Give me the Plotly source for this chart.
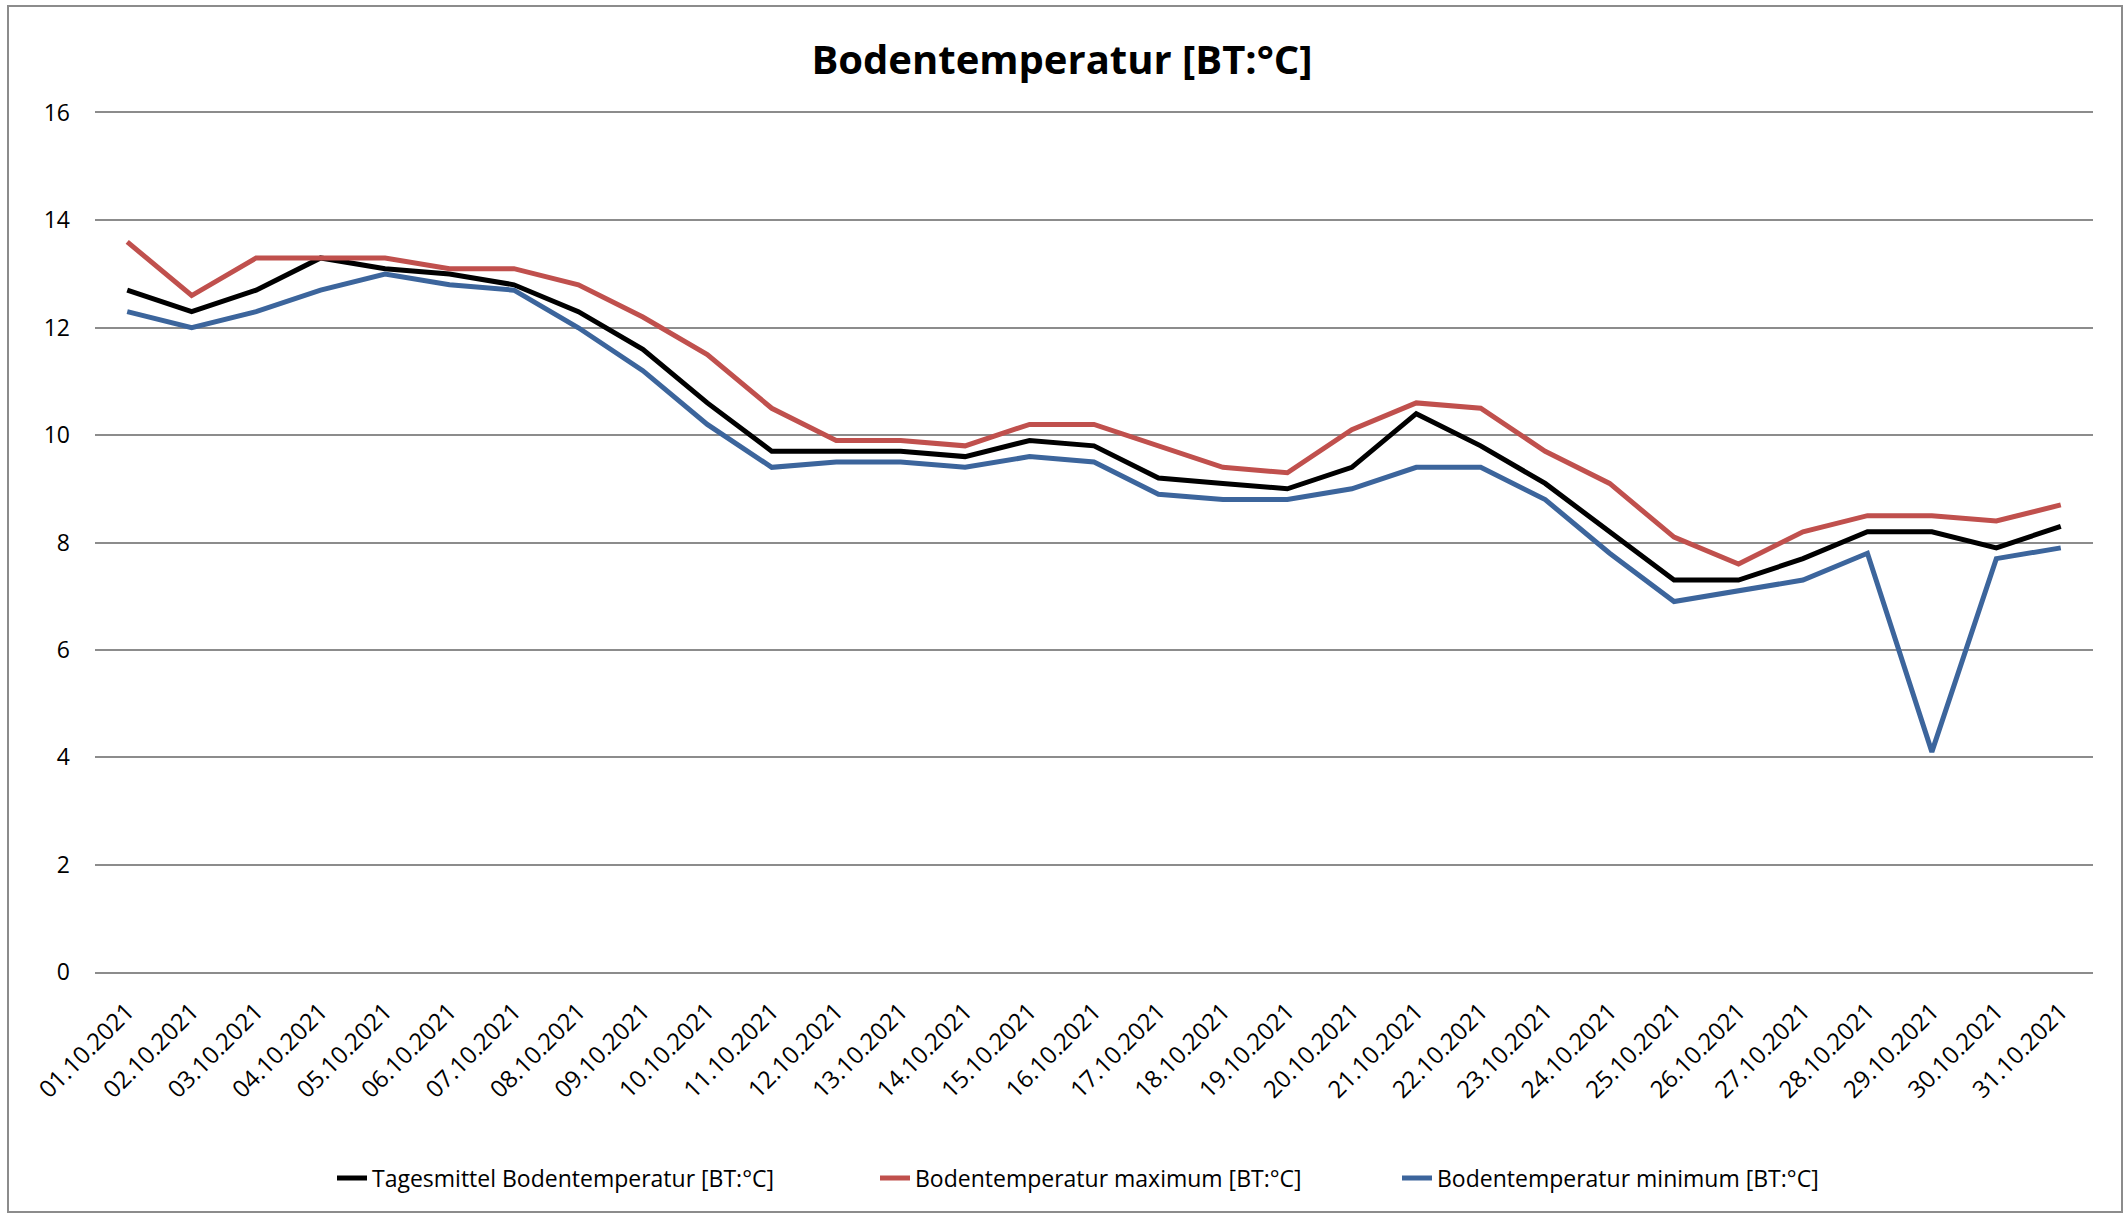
import plotly.graph_objects as go

dates = [f"{d:02d}.10.2021" for d in range(1, 32)]

mittel = [12.7, 12.3, 12.7, 13.3, 13.1, 13.0, 12.8, 12.3, 11.6, 10.6,
          9.7, 9.7, 9.7, 9.6, 9.9, 9.8, 9.2, 9.1, 9.0, 9.4,
          10.4, 9.8, 9.1, 8.2, 7.3, 7.3, 7.7, 8.2, 8.2, 7.9, 8.3]
maximum = [13.6, 12.6, 13.3, 13.3, 13.3, 13.1, 13.1, 12.8, 12.2, 11.5,
           10.5, 9.9, 9.9, 9.8, 10.2, 10.2, 9.8, 9.4, 9.3, 10.1,
           10.6, 10.5, 9.7, 9.1, 8.1, 7.6, 8.2, 8.5, 8.5, 8.4, 8.7]
minimum = [12.3, 12.0, 12.3, 12.7, 13.0, 12.8, 12.7, 12.0, 11.2, 10.2,
           9.4, 9.5, 9.5, 9.4, 9.6, 9.5, 8.9, 8.8, 8.8, 9.0,
           9.4, 9.4, 8.8, 7.8, 6.9, 7.1, 7.3, 7.8, 4.1, 7.7, 7.9]

y_ticks = [0, 2, 4, 6, 8, 10, 12, 14, 16]

names = ["Tagesmittel Bodentemperatur [BT:°C]",
         "Bodentemperatur maximum [BT:°C]",
         "Bodentemperatur minimum [BT:°C]"]
colors = ["#000000", "#C0504D", "#3C659C"]

W, H = 2124, 1213
L, R, T, B = 95, 31, 113, 241
pw, ph = W - L - R, H - T - B

def px_x(p):
    return (p - L) / pw

def px_y(p):
    return (H - B - p) / ph

FONT = "Open Sans"
GRID = "#8C8C8C"

fig = go.Figure()
series = [mittel, maximum, minimum]
legend_ids = ["legend", "legend2", "legend3"]
for s, n, c, lg in zip(series, names, colors, legend_ids):
    fig.add_trace(go.Scatter(x=dates, y=s, mode="lines", name=n, showlegend=True,
                             line=dict(color=c, width=5), legend=lg))

legend_x_px = [332, 875, 1397]
leg_common = dict(orientation="h", yanchor="middle", xanchor="left",
                  font=dict(family=FONT, size=23, color="#000000"),
                  bgcolor="rgba(0,0,0,0)", borderwidth=0)

fig.update_layout(
    width=W, height=H,
    showlegend=True,
    margin=dict(l=L, r=R, t=T, b=B, pad=0),
    paper_bgcolor="white", plot_bgcolor="white",
    title=dict(text="<b>Bodentemperatur [BT:°C]</b>", x=0.5, xref="container",
               xanchor="center", y=1 - 60 / H, yref="container", yanchor="middle",
               font=dict(family=FONT, size=40, color="#000000")),
    legend=dict(x=px_x(legend_x_px[0]), y=px_y(1178), **leg_common),
    legend2=dict(x=px_x(legend_x_px[1]), y=px_y(1178), **leg_common),
    legend3=dict(x=px_x(legend_x_px[2]), y=px_y(1178), **leg_common),
    xaxis=dict(type="category", range=[-0.5, 30.5], tickangle=-45,
               showgrid=False, showline=True, mirror=True, linecolor=GRID,
               linewidth=1.6, zeroline=False, ticks="", automargin=False,
               ticklabelstandoff=14,
               tickfont=dict(family=FONT, size=24, color="#000000")),
    yaxis=dict(range=[0, 16], tickvals=y_ticks, ticktext=[str(v) for v in y_ticks],
               showgrid=True, gridcolor=GRID, gridwidth=1.6,
               zeroline=False, automargin=False,
               showline=False, ticks="", ticklabelstandoff=24,
               tickfont=dict(family=FONT, size=23, color="#000000")),
    shapes=[dict(type="rect", xref="paper", yref="paper",
                 x0=px_x(8), x1=px_x(2122), y0=px_y(1212), y1=px_y(6),
                 line=dict(color=GRID, width=2), fillcolor="rgba(0,0,0,0)",
                 layer="below")],
)

fig.write_html("out.html", config={"displayModeBar": False},
               post_script="document.body.style.margin='0';")
